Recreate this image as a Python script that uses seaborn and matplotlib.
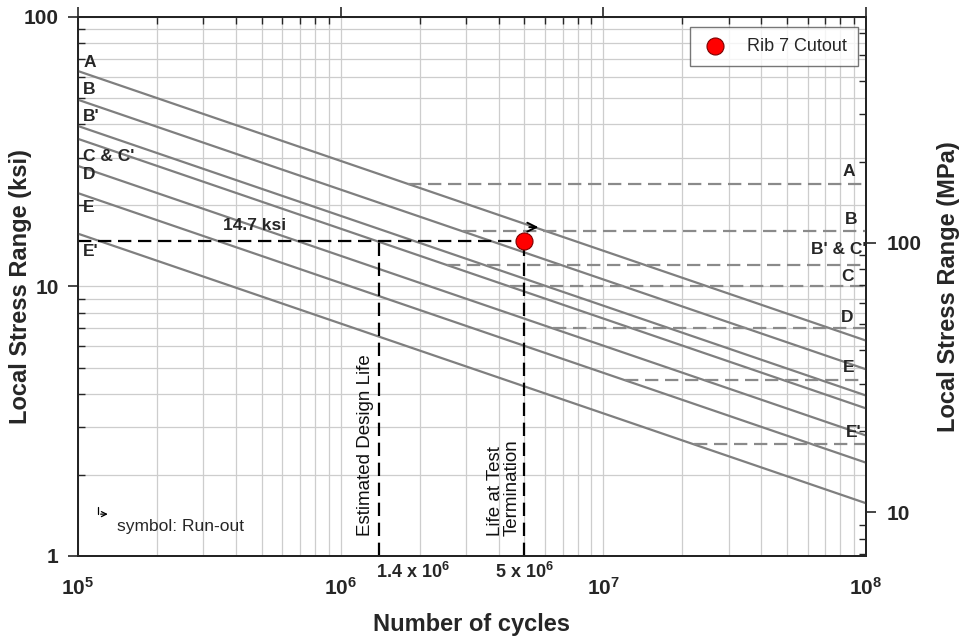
import numpy as np
import pandas as pd
import matplotlib
matplotlib.use("Agg")
import matplotlib.pyplot as plt
from matplotlib.ticker import LogLocator, NullFormatter, FixedLocator, FixedFormatter
import seaborn as sns

# S-N design curves (ksi), drawn between 1e5 and 1e8 cycles
categories = ["A", "B", "B'", "C", "D", "E", "E'"]
cycle_ends = [1e5, 1e8]
stress_start = [63.0, 49.3, 39.4, 35.3, 28.0, 22.2, 15.7]
stress_end = [6.30, 4.93, 3.94, 3.53, 2.80, 2.22, 1.57]

# constant amplitude fatigue thresholds (dashed lines)
cafl_names = ["A", "B", "B' & C'", "C", "D", "E", "E'"]
cafl_ksi = [24.0, 16.0, 12.0, 10.0, 7.0, 4.5, 2.6]
cafl_start = [1.81e6, 2.93e6, 2.55e6, 4.4e6, 6.41e6, 1.21e7, 2.22e7]
cafl_label_x = [8.6e7, 8.8e7, 7.9e7, 8.5e7, 8.5e7, 8.6e7, 9.0e7]
cafl_label_y = [26.7, 17.7, 13.7, 10.9, 7.67, 5.0, 2.88]

# curve labels on the left edge
left_names = ["A", "B", "B'", "C & C'", "D", "E", "E'"]
left_label_y = [67.5, 53.6, 42.6, 30.3, 26.0, 19.6, 13.5]

# test result
test_name = "Rib 7 Cutout"
test_cycles = [5e6]
test_stress = [14.7]
design_life = 1.4e6
runout_cycles = [5.1e6, 5.8e6]
runout_stress = 16.6

ksi_to_mpa = 6.895

sns.set_style("white")
plt.rcParams['font.family'] = ['Liberation Sans', 'DejaVu Sans']
plt.rcParams['mathtext.fontset'] = 'custom'
plt.rcParams['mathtext.rm'] = 'Liberation Sans:bold'
plt.rcParams['mathtext.bf'] = 'Liberation Sans:bold'
plt.rcParams['mathtext.default'] = 'bf'

fig = plt.figure(figsize=(9.6, 6.39), dpi=100)
ax = fig.add_subplot(111)
fig.subplots_adjust(left=0.0813, right=0.902, top=0.9734, bottom=0.1299)

ax.set_xscale('log')
ax.set_yscale('log')
ax.set_xlim(1e5, 1e8)
ax.set_ylim(1, 100)

grid_col = '#cdcdcd'
ax.grid(True, which='both', color=grid_col, lw=0.9, zorder=0)
ax.set_axisbelow(True)

# sloped S-N lines
rows = []
for name, s0, s1 in zip(categories, stress_start, stress_end):
    rows.append({'category': name, 'cycles': cycle_ends[0], 'stress': s0})
    rows.append({'category': name, 'cycles': cycle_ends[1], 'stress': s1})
df = pd.DataFrame(rows)
sns.lineplot(data=df, x='cycles', y='stress', units='category', estimator=None,
             color='#7f7f7f', lw=1.6, ax=ax, legend=False, zorder=3)

# CAFL dashed lines
ax.hlines(cafl_ksi, cafl_start, 1e8, colors='#8a8a8a', lw=1.6,
          linestyles=(0, (6, 3)), zorder=3)
for n, x, y in zip(cafl_names, cafl_label_x, cafl_label_y):
    ax.text(x, y, n, ha='center', va='center', fontsize=12.5, fontweight='bold', zorder=5)

for n, y in zip(left_names, left_label_y):
    ax.text(1.045e5, y, n, ha='left', va='center', fontsize=12.5, fontweight='bold', zorder=5)

# test result lines
ax.plot([1e5, test_cycles[0]], [test_stress[0], test_stress[0]], color='black', lw=1.6,
        ls=(0, (6, 3)), zorder=4)
ax.plot([design_life, design_life], [1, test_stress[0]], color='black', lw=1.6,
        ls=(0, (6, 3)), zorder=4)
ax.plot([test_cycles[0], test_cycles[0]], [1, test_stress[0]], color='black', lw=1.6,
        ls=(0, (6, 3)), zorder=4)

sns.scatterplot(x=test_cycles, y=test_stress, color='red', edgecolor='#7a0000',
                s=150, linewidth=0.8, ax=ax, label=test_name, zorder=6)

ax.annotate('', xy=(runout_cycles[1], runout_stress), xytext=(runout_cycles[0], runout_stress),
            arrowprops=dict(arrowstyle='->', color='black', lw=1.4, mutation_scale=16), zorder=6)

ax.text(4.68e5, 16.9, '14.7 ksi', ha='center', va='center', fontsize=12.5, fontweight='bold')
ax.text(1.24e6, 1.19, 'Estimated Design Life', rotation=90, ha='center', va='bottom',
        fontsize=13.5, color='#111111')
ax.text(4.17e6, 1.19, 'Life at Test\nTermination', rotation=90, ha='center', va='bottom',
        fontsize=13.5, multialignment='left', linespacing=1.0, color='#111111')

# run-out symbol note
ax.annotate('', xy=(1.33e5, 1.43), xytext=(1.19e5, 1.43),
            arrowprops=dict(arrowstyle='->', color='black', lw=0.9, mutation_scale=9))
ax.plot([1.19e5, 1.19e5], [1.43, 1.52], color='black', lw=0.9)
ax.text(1.41e5, 1.29, 'symbol: Run-out', ha='left', va='center', fontsize=12.5)

# extra cycle labels below the axis
trans = ax.get_xaxis_transform()
ax.text(design_life * 0.97, -0.03, '1.4 x 10$^{6}$', transform=trans, ha='left', va='center',
        fontsize=13, fontweight='bold')
ax.text(test_cycles[0], -0.03, '5 x 10$^{6}$', transform=trans, ha='center', va='center',
        fontsize=13, fontweight='bold')

# axes styling
ax.set_xticks([1e5, 1e6, 1e7, 1e8])
ax.set_xticklabels(['$10^{5}$', '$10^{6}$', '$10^{7}$', '$10^{8}$'])
ax.xaxis.set_minor_locator(LogLocator(base=10, subs=np.arange(2, 10), numticks=20))
ax.xaxis.set_minor_formatter(NullFormatter())
ax.set_yticks([1, 10, 100])
ax.set_yticklabels(['1', '10', '100'])
ax.yaxis.set_minor_locator(LogLocator(base=10, subs=np.arange(2, 10), numticks=20))
ax.yaxis.set_minor_formatter(NullFormatter())

ax.tick_params(which='major', direction='out', length=7, width=1.2, top=True, right=False,
               labelsize=15)
ax.tick_params(which='minor', direction='in', length=5, width=1.0, top=True, right=False)
ax.tick_params(axis='x', which='major', pad=8)
ax.tick_params(axis='y', which='major', pad=7)
for lab in ax.get_xticklabels() + ax.get_yticklabels():
    lab.set_fontweight('bold')
for sp in ax.spines.values():
    sp.set_color('black')
    sp.set_linewidth(1.3)

ax.set_xlabel('Number of cycles', fontsize=17, fontweight='bold', labelpad=10)
ax.set_ylabel('Local Stress Range (ksi)', fontsize=17, fontweight='bold')
ax.yaxis.set_label_coords(-0.058, 0.5)

# right axis in MPa
ax2 = ax.twinx()
ax2.set_yscale('log')
ax2.set_ylim(1 * ksi_to_mpa, 100 * ksi_to_mpa)
ax2.yaxis.set_major_locator(FixedLocator([10, 100]))
ax2.yaxis.set_major_formatter(FixedFormatter(['10', '100']))
ax2.yaxis.set_minor_locator(LogLocator(base=10, subs=np.arange(2, 10), numticks=20))
ax2.yaxis.set_minor_formatter(NullFormatter())
ax2.tick_params(which='major', direction='out', length=7, width=1.2, labelsize=15, pad=8)
ax2.tick_params(which='minor', direction='in', length=5, width=1.0)
for lab in ax2.get_yticklabels():
    lab.set_fontweight('bold')
ax2.set_ylabel('Local Stress Range (MPa)', fontsize=17, fontweight='bold', labelpad=11)
for sp in ax2.spines.values():
    sp.set_linewidth(1.3)

leg = ax.legend(loc='upper right', bbox_to_anchor=(0.99, 0.981), borderaxespad=0,
                fontsize=13, frameon=True, fancybox=False, edgecolor='#555555',
                borderpad=0.6, handletextpad=1.0, handlelength=1.6)
leg.get_frame().set_linewidth(1.0)
leg.set_zorder(10)

plt.savefig('out.png', dpi=100)
